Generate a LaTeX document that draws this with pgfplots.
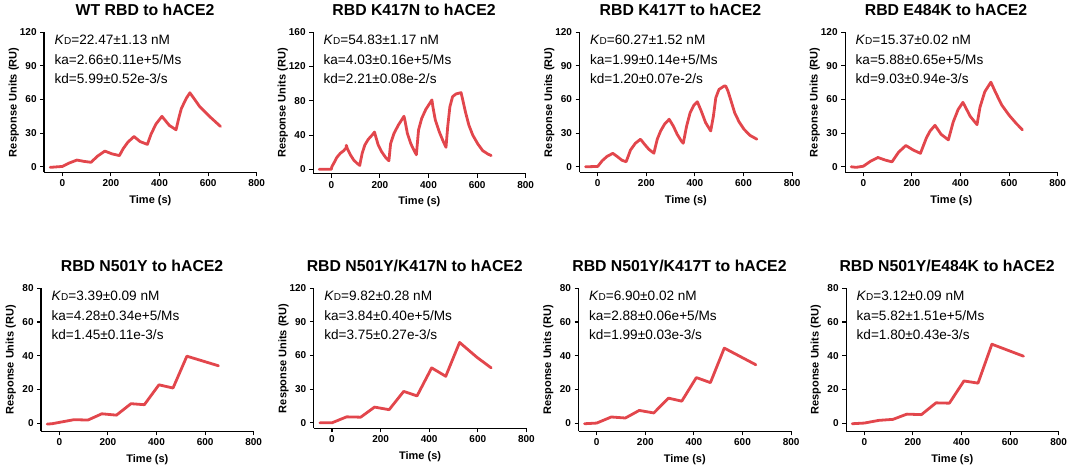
\documentclass[border=0pt]{standalone}
\usepackage{fontspec}
\setmainfont{Liberation Sans}
\usepackage{pgfplots}
\pgfplotsset{compat=1.18}
\definecolor{curve}{RGB}{226,70,76}
\newcommand{\KD}{\textit{K}{\fontsize{10}{12}\selectfont D}}
\newcommand{\ann}[3]{%
  \node[anchor=base west, xshift=7pt, yshift=-12.7pt, font=\fontsize{13.6}{16}\selectfont] at (rel axis cs:0,1) {\KD=#1};
  \node[anchor=base west, xshift=7pt, yshift=-31.9pt, font=\fontsize{13.6}{16}\selectfont] at (rel axis cs:0,1) {ka=#2};
  \node[anchor=base west, xshift=7pt, yshift=-51.1pt, font=\fontsize{13.6}{16}\selectfont] at (rel axis cs:0,1) {kd=#3};
}
\pgfplotsset{
  panel/.style={
    scale only axis, width=212.6pt,
    xmin=-75, xmax=800, ymin=-5,
    axis lines=left, axis line style={-, line width=1.2pt},
    tick style={black, line width=1.1pt}, major tick length=4pt, tick align=outside,
    xtick={0,200,400,600,800},
    ticklabel style={font=\bfseries\fontsize{10}{12}\selectfont},
    /pgf/number format/assume math mode=true,
    xlabel={Time (s)}, ylabel={Response Units (RU)},
    label style={font=\bfseries\fontsize{11}{13}\selectfont},
    xlabel style={at={(axis description cs:0.5,0)}, anchor=base, yshift=-31pt},
    ylabel style={at={(axis description cs:-0.129,0.5)}, anchor=base},
    title style={at={(axis description cs:0.475,1)}, anchor=base, yshift=11pt,
      font=\bfseries\fontsize{15.8}{18}\selectfont},
    clip=false, anchor=north west,
  },
  y120/.style={ymax=120, ytick={0,30,...,120}, height=140.1pt},
  y160/.style={ymax=160, ytick={0,40,...,160}, height=141.3pt},
  y80/.style={ymax=80, ytick={0,20,...,80}, height=143.2pt},
  sens/.style={curve, line width=2.8pt, line join=round, line cap=round},
}

\begin{document}
\begin{tikzpicture}
\path[use as bounding box] (0pt,0pt) rectangle (1072pt,470pt);

% ---- row 1
\begin{axis}[panel, y120, at={(44.1pt,437.7pt)}, title={WT RBD to hACE2}]
\addplot[sens] coordinates {
 (-50,-0.5) (0,0.3) (30,3.5) (60,6) (90,4.8) (118,4) (145,9.5) (175,14)
 (205,11.5) (235,10) (250,16) (270,22) (295,27) (320,22.5) (350,20)
 (365,29) (385,38) (410,45) (440,37) (468,33) (480,44) (490,52) (510,61)
 (525,66) (545,60) (566,53.5) (608,44.5) (651,36)
};
\ann{22.47±1.13 nM}{2.66±0.11e+5/Ms}{5.99±0.52e-3/s}
\end{axis}

\begin{axis}[panel, y160, at={(313.1pt,437.7pt)}, title={RBD K417N to hACE2}]
\addplot[sens] coordinates {
 (-50,0) (0,0) (2,3) (10,7) (23,14) (37,18.7) (51,21.8) (61,25) (62,28)
 (66,24) (79,16.7) (92,10.9) (106,7) (117,4.5)
 (120,9) (127,18.7) (138,28.4) (152,35) (168,40) (178,43.5)
 (181,40) (193,28.4) (207,20.6) (223,14) (237,10)
 (244,30) (258,42) (276,51.7) (292,58.8) (299,62)
 (303,57) (313,42) (327,30) (341,21.8) (350,17)
 (359,46) (372,59.5) (389,70) (405,77) (414,81)
 (418,73) (428,57.6) (444,44) (461,32.3) (472,25.7)
 (479,49.8) (488,73) (499,84.8) (513,88) (534,89.5)
 (541,81) (552,67) (566,51.7) (582,40) (603,29.6) (623,21.8) (644,17.9) (658,16)
};
\ann{54.83±1.17 nM}{4.03±0.16e+5/Ms}{2.21±0.08e-2/s}
\end{axis}

\begin{axis}[panel, y120, at={(579.5pt,437.7pt)}, title={RBD K417T to hACE2}]
\addplot[sens] coordinates {
 (-50,0) (0,0.3) (18,5.3) (38,9.2) (62,12)
 (80,9.2) (100,5.8) (117,4.5)
 (135,15) (155,21) (176,24.6)
 (193,20) (210,15.7) (231,12.1)
 (245,24.6) (259,32) (275,38) (294,42.4)
 (311,36.4) (327,29) (344,23) (352,21)
 (366,36.4) (380,48) (396,55) (410,58)
 (426,49.8) (444,39.4) (465,32)
 (476,45) (486,61.6) (499,69) (520,72) (527,72)
 (536,67.6) (547,60) (564,48) (582,40) (602,33.5) (627,28) (655,24.6)
};
\ann{60.27±1.52 nM}{1.99±0.14e+5/Ms}{1.20±0.07e-2/s}
\end{axis}

\begin{axis}[panel, y120, at={(845.1pt,437.7pt)}, title={RBD E484K to hACE2}]
\addplot[sens] coordinates {
 (-50,0) (-30,-0.5) (0,0.5) (30,5) (60,8.3) (90,6) (118,4.4)
 (145,13) (175,19) (205,15) (235,12) (260,26) (275,32) (295,37)
 (320,29) (350,24) (370,40) (390,51) (410,57.5) (440,45) (468,37.6)
 (480,53) (500,67) (525,75.5) (545,66) (570,55) (600,46) (630,38.5) (655,33)
};
\ann{15.37±0.02 nM}{5.88±0.65e+5/Ms}{9.03±0.94e-3/s}
\end{axis}

% ---- row 2
\begin{axis}[panel, y80, at={(41.1pt,181.7pt)}, title={RBD N501Y to hACE2}]
\addplot[sens] coordinates {
 (-50,-0.6) (-30,-0.4) (0,0.4) (60,2) (118,1.8) (175,5.5) (235,4.7)
 (295,11.5) (350,10.9) (410,22.7) (468,20.8) (525,39.7) (655,34)
};
\ann{3.39±0.09 nM}{4.28±0.34e+5/Ms}{1.45±0.11e-3/s}
\end{axis}

\begin{axis}[panel, y120, height=140.1pt, at={(313.8pt,181.7pt)}, title={RBD N501Y/K417N to hACE2}]
\addplot[sens] coordinates {
 (-50,0) (0,0) (60,5.3) (118,5) (175,14) (235,11.7) (295,28) (350,24)
 (410,49) (468,41.5) (525,71.7) (596,58.5) (655,49)
};
\ann{9.82±0.28 nM}{3.84±0.40e+5/Ms}{3.75±0.27e-3/s}
\end{axis}

\begin{axis}[panel, y80, at={(578.5pt,181.7pt)}, title={RBD N501Y/K417T to hACE2}]
\addplot[sens] coordinates {
 (-50,-0.4) (0,0) (60,3.6) (118,3) (175,7.5) (235,6) (295,14.8) (350,13)
 (410,27) (468,24) (525,44.5) (655,34.6)
};
\ann{6.90±0.02 nM}{2.88±0.06e+5/Ms}{1.99±0.03e-3/s}
\end{axis}

\begin{axis}[panel, y80, at={(846.1pt,181.7pt)}, title={RBD N501Y/E484K to hACE2}]
\addplot[sens] coordinates {
 (-50,-0.4) (0,0) (60,1.6) (118,2.2) (175,5.3) (235,5) (295,12) (350,11.8)
 (410,25) (468,23.7) (525,46.8) (655,39.7)
};
\ann{3.12±0.09 nM}{5.82±1.51e+5/Ms}{1.80±0.43e-3/s}
\end{axis}
\end{tikzpicture}
\end{document}
